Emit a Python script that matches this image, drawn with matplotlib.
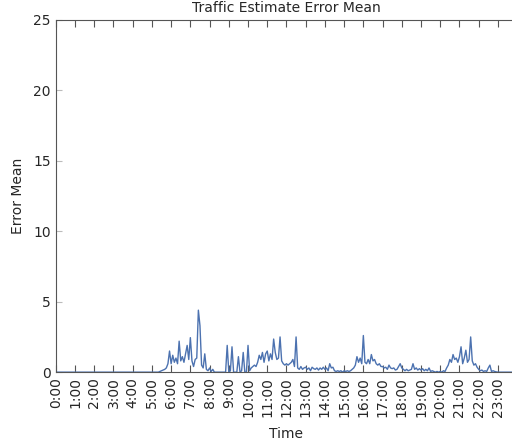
import numpy as np
import matplotlib
matplotlib.use("Agg")
import matplotlib.pyplot as plt

# error mean per 5-minute bin, one list per hour
hour_values = [
  [0.0] * 12,  # 0:00
  [0.0] * 12,  # 1:00
  [0.0] * 12,  # 2:00
  [0.0] * 12,  # 3:00
  [0.0] * 12,  # 4:00
  [0.0, 0.0, 0.0, 0.0, 0.0, 0.05, 0.1, 0.15, 0.2, 0.3, 0.6, 1.5],
  [0.6, 1.2, 0.7, 1.0, 0.6, 2.2, 0.8, 1.1, 0.7, 1.3, 1.9, 0.9],
  [2.45, 0.8, 0.4, 0.9, 1.0, 4.4, 3.3, 0.5, 0.3, 1.3, 0.2, 0.1],
  [0.3, 0.05, 0.2, 0.0, 0.0, 0.0, 0.0, 0.0, 0.0, 0.0, 0.0, 1.9],
  [0.0, 0.1, 1.8, 0.0, 0.0, 0.0, 1.1, 0.0, 0.1, 1.4, 0.0, 0.0],
  [1.9, 0.1, 0.3, 0.4, 0.5, 0.4, 0.7, 1.2, 0.9, 1.4, 0.7, 1.3],
  [1.5, 0.8, 1.3, 0.9, 2.35, 1.4, 0.9, 1.0, 2.5, 0.8, 0.6, 0.5],
  [0.6, 0.5, 0.6, 0.7, 0.9, 0.4, 2.5, 0.3, 0.2, 0.4, 0.2, 0.3],
  [0.35, 0.2, 0.3, 0.1, 0.35, 0.25, 0.2, 0.3, 0.15, 0.3, 0.2, 0.35],
  [0.2, 0.3, 0.1, 0.6, 0.3, 0.35, 0.1, 0.05, 0.1, 0.05, 0.1, 0.0],
  [0.1, 0.05, 0.1, 0.05, 0.1, 0.2, 0.3, 0.5, 1.1, 0.7, 1.0, 0.6],
  [2.6, 0.7, 0.6, 0.9, 0.6, 1.25, 0.8, 0.9, 0.6, 0.5, 0.6, 0.4],
  [0.4, 0.3, 0.35, 0.2, 0.5, 0.3, 0.25, 0.3, 0.15, 0.2, 0.4, 0.6],
  [0.3, 0.2, 0.1, 0.2, 0.1, 0.15, 0.2, 0.6, 0.2, 0.3, 0.15, 0.25],
  [0.15, 0.25, 0.1, 0.2, 0.1, 0.3, 0.05, 0.1, 0.05, 0.0, 0.05, 0.0],
  [0.05, 0.0, 0.1, 0.05, 0.3, 0.5, 0.9, 0.7, 1.25, 0.9, 1.0, 0.7],
  [1.1, 1.8, 0.6, 1.0, 1.56, 0.7, 0.9, 2.5, 0.8, 0.5, 0.6, 0.35],
  [0.2, 0.1, 0.15, 0.05, 0.1, 0.05, 0.3, 0.5, 0.05, 0.1, 0.05, 0.02],
  [0.0] * 12,  # 23:00
]
tick_labels = [f"{h}:00" for h in range(24)]

error_mean = np.concatenate(hour_values)
time_hours = np.arange(len(error_mean)) * (5 / 60)

fig = plt.figure(figsize=(5.12, 4.42), dpi=100)
# right edge sits just past the figure, like the cropped original
ax = fig.add_axes([0.109, 0.158, 0.901, 0.797])

ax.plot(time_hours, error_mean, color='#4c72b0', linewidth=1.0)

ax.set_xlim(0, 24)
ax.set_ylim(0, 25)
ax.set_xticks(range(24))
ax.set_xticklabels(tick_labels, rotation=90, fontsize=10, color='#262626')
ax.set_yticks([0, 5, 10, 15, 20, 25])
ax.tick_params(axis='y', labelsize=10, labelcolor='#262626')

ax.tick_params(axis='x', direction='in', top=True, length=5, color='#555555')
ax.tick_params(axis='y', direction='in', right=False, length=4, color='#bbbbbb')
for sp in ax.spines.values():
  sp.set_color('#555555')

ax.set_title("Traffic Estimate Error Mean", fontsize=10, color='#262626')
ax.set_xlabel("Time", fontsize=10, color='#262626', labelpad=7)
ax.set_ylabel("Error Mean", fontsize=10, color='#262626', labelpad=6)

fig.savefig("out.png", dpi=100, facecolor='white')
